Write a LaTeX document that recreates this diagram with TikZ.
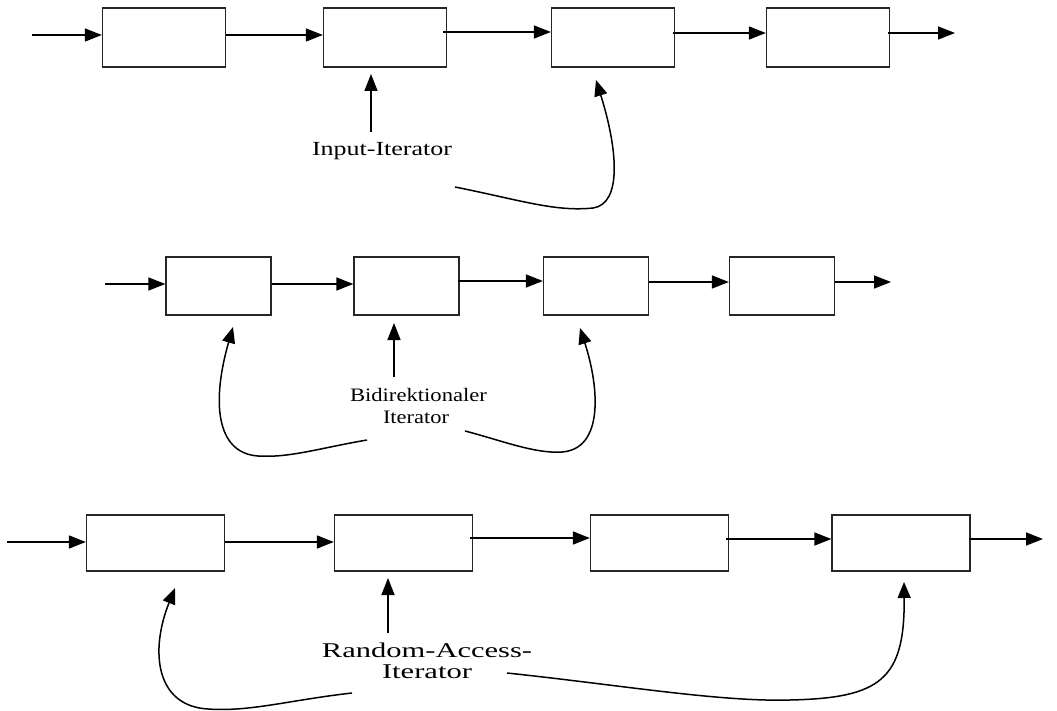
\documentclass[tikz,border=0pt]{standalone}
\usepackage{fontspec}
\setmainfont{Liberation Serif}
\usetikzlibrary{arrows.meta,calc}
\tikzset{
  box/.style={draw=black!85, line width=1.3pt, inner sep=0pt, fill=white},
  r1/.style={box, minimum width=123pt, minimum height=59pt},
  r2/.style={box, minimum width=105pt, minimum height=58pt},
  r3/.style={box, minimum width=138pt, minimum height=56pt},
  arr/.style={line width=1.5pt, -{Triangle[length=17pt,width=13pt]}},
  carr/.style={line width=1.5pt, -{Triangle[length=16pt,width=13pt]}},
  lbl/.style={inner sep=0pt, anchor=base, font=\fontsize{20}{22}\selectfont},
}
\begin{document}
\begin{tikzpicture}[x=1pt,y=-1pt]
\useasboundingbox[fill=white] (0,0) rectangle (1057,711);
% ---------- row 1 ----------
\node[r1] (a1) at (164,37.5) {};
\node[r1] (a2) at (385,37.5) {};
\node[r1] (a3) at (613,37.5) {};
\node[r1] (a4) at (828,37.5) {};
\coordinate (a0) at (32,35);
\coordinate (a5) at (955,33);
\draw[arr] (a0) -- ([yshift=2.5pt]a1.west);
\draw[arr] ([yshift=2.5pt]a1.east) -- ([yshift=2.5pt]a2.west);
\draw[arr] ([xshift=-4pt,yshift=5.5pt]a2.east) -- ([yshift=5.5pt]a3.west);
\draw[arr] ([xshift=-2pt,yshift=4.5pt]a3.east) -- ([yshift=4.5pt]a4.west);
\draw[arr] ([xshift=-2pt,yshift=4.5pt]a4.east) -- (a5);
\node[lbl] (l1) at (382,156) {\resizebox{140pt}{\height}{Input-Iterator}};
\coordinate (l1u) at (371,132);
\coordinate (l1c) at (455,187);
\coordinate (t1a) at (371,74);
\coordinate (t1b) at (596,80);
\draw[arr] (l1u) -- (t1a);
\draw[carr] (l1c) .. controls (520,200) and (555,212) .. (593,208)
  .. controls (622,204) and (618,150) .. (t1b);
% ---------- row 2 ----------
\node[r2] (b1) at (218.5,286) {};
\node[r2] (b2) at (406.5,286) {};
\node[r2] (b3) at (596,286) {};
\node[r2] (b4) at (782,286) {};
\coordinate (b0) at (105,284);
\coordinate (b5) at (891,282);
\draw[arr] (b0) -- ([yshift=2pt]b1.west);
\draw[arr] ([yshift=2pt]b1.east) -- ([yshift=2pt]b2.west);
\draw[arr] ([xshift=-2pt,yshift=5pt]b2.east) -- ([yshift=5pt]b3.west);
\draw[arr] ([yshift=4pt]b3.east) -- ([yshift=4pt]b4.west);
\draw[arr] ([yshift=4pt]b4.east) -- (b5);
\node[lbl,font=\fontsize{19}{22}\selectfont] (l2a) at (418.5,401) {\resizebox{137pt}{\height}{Bidirektionaler}};
\node[lbl,font=\fontsize{19}{22}\selectfont] (l2b) at (416,423) {\resizebox{66pt}{\height}{Iterator}};
\coordinate (l2u) at (394,377);
\coordinate (l2l) at (367,440);
\coordinate (l2r) at (465,431);
\coordinate (t2a) at (394,323);
\coordinate (t2b) at (233,327);
\coordinate (t2c) at (580,328);
\draw[arr] (l2u) -- (t2a);
\draw[carr] (l2l) .. controls (320,448) and (290,458) .. (258,456)
  .. controls (215,453) and (212,400) .. (t2b);
\draw[carr] (l2r) .. controls (500,440) and (535,454) .. (562,452)
  .. controls (603,449) and (600,390) .. (t2c);
% ---------- row 3 ----------
\node[r3] (c1) at (155.5,543) {};
\node[r3] (c2) at (403.5,543) {};
\node[r3] (c3) at (659.5,543) {};
\node[r3] (c4) at (901,543) {};
\coordinate (c0) at (7,542);
\coordinate (c5) at (1043,539);
\draw[arr] (c0) -- ([yshift=1pt]c1.west);
\draw[arr] ([yshift=1pt]c1.east) -- ([yshift=1pt]c2.west);
\draw[arr] ([xshift=-3pt,yshift=5pt]c2.east) -- ([yshift=5pt]c3.west);
\draw[arr] ([xshift=-3pt,yshift=4pt]c3.east) -- ([yshift=4pt]c4.west);
\draw[arr] ([xshift=-2pt,yshift=4pt]c4.east) -- (c5);
\node[lbl,font=\fontsize{21}{22}\selectfont] (l3a) at (427,657) {\resizebox{210pt}{\height}{Random-Access-}};
\node[lbl,font=\fontsize{21}{22}\selectfont] (l3b) at (427,678) {\resizebox{90pt}{\height}{Iterator}};
\coordinate (l3u) at (388,633);
\coordinate (l3l) at (352,693);
\coordinate (l3r) at (507,673);
\coordinate (t3a) at (388,578);
\coordinate (t3b) at (175,588);
\coordinate (t3c) at (904,582);
\draw[arr] (l3u) -- (t3a);
\draw[carr] (l3l) .. controls (290,700) and (250,712) .. (208,709)
  .. controls (155,706) and (150,650) .. (t3b);
\draw[carr] (l3r) .. controls (620,685) and (720,702) .. (790,700)
  .. controls (880,698) and (905,680) .. (t3c);
\end{tikzpicture}
\end{document}
